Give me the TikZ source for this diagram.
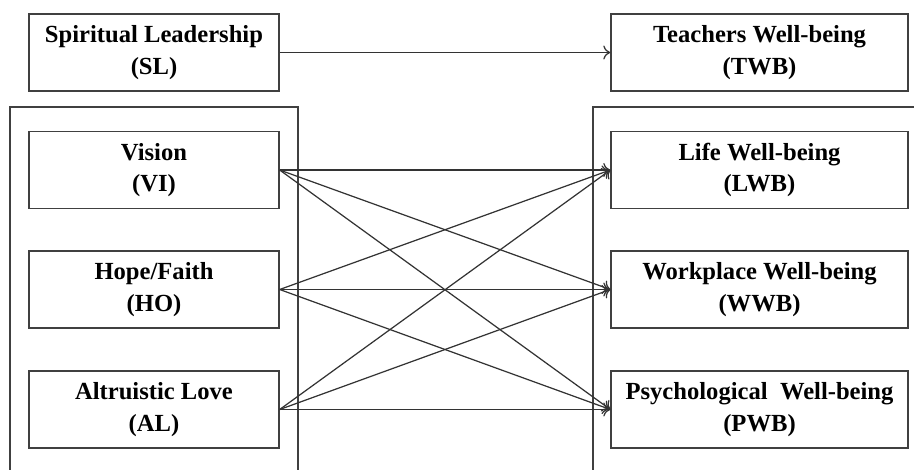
\documentclass[tikz,border=0pt]{standalone}
\usepackage{fontspec}
\setmainfont{Liberation Serif}
\usepackage{tikz}
\usetikzlibrary{positioning,arrows.meta}

\tikzset{
  varbox/.style={draw=black!75,line width=.8pt,align=center,minimum height=1.54cm,
    font=\fontsize{14}{18}\selectfont\bfseries,inner sep=0pt},
  leftbox/.style={varbox,minimum width=5cm},
  rightbox/.style={varbox,minimum width=5.94cm},
  link/.style={draw=black!80,line width=.7pt,-{To[length=4pt,width=8pt]}}
}

\begin{document}
\begin{tikzpicture}[x=.02cm,y=-.02cm]
\useasboundingbox (0,0) rectangle (914,470);
\draw[draw=black!75,line width=.8pt] (10,470) |- (298,107) -- (298,470);
\draw[draw=black!75,line width=.8pt] (593,470) |- (914,107);
\node[leftbox] (SL) at (154,52.5) {Spiritual Leadership\\(SL)};
\node[rightbox] (TWB) at (759.5,52.5) {Teachers Well-being\\(TWB)};
\node[leftbox] (VI) at (154,170) {Vision\\(VI)};
\node[leftbox] (HO) at (154,289.5) {Hope/Faith\\(HO)};
\node[leftbox] (AL) at (154,409.5) {Altruistic Love\\(AL)};
\node[rightbox] (LWB) at (759.5,170) {Life Well-being\\(LWB)};
\node[rightbox] (WWB) at (759.5,289.5) {Workplace Well-being\\(WWB)};
\node[rightbox] (PWB) at (759.5,409.5) {Psychological\ \ Well-being\\(PWB)};
\draw[link] (SL.east) -- (TWB.west);
\foreach \a in {VI,HO,AL}
  \foreach \b in {LWB,WWB,PWB}
    \draw[link] (\a.east) -- (\b.west);
\end{tikzpicture}
\end{document}
